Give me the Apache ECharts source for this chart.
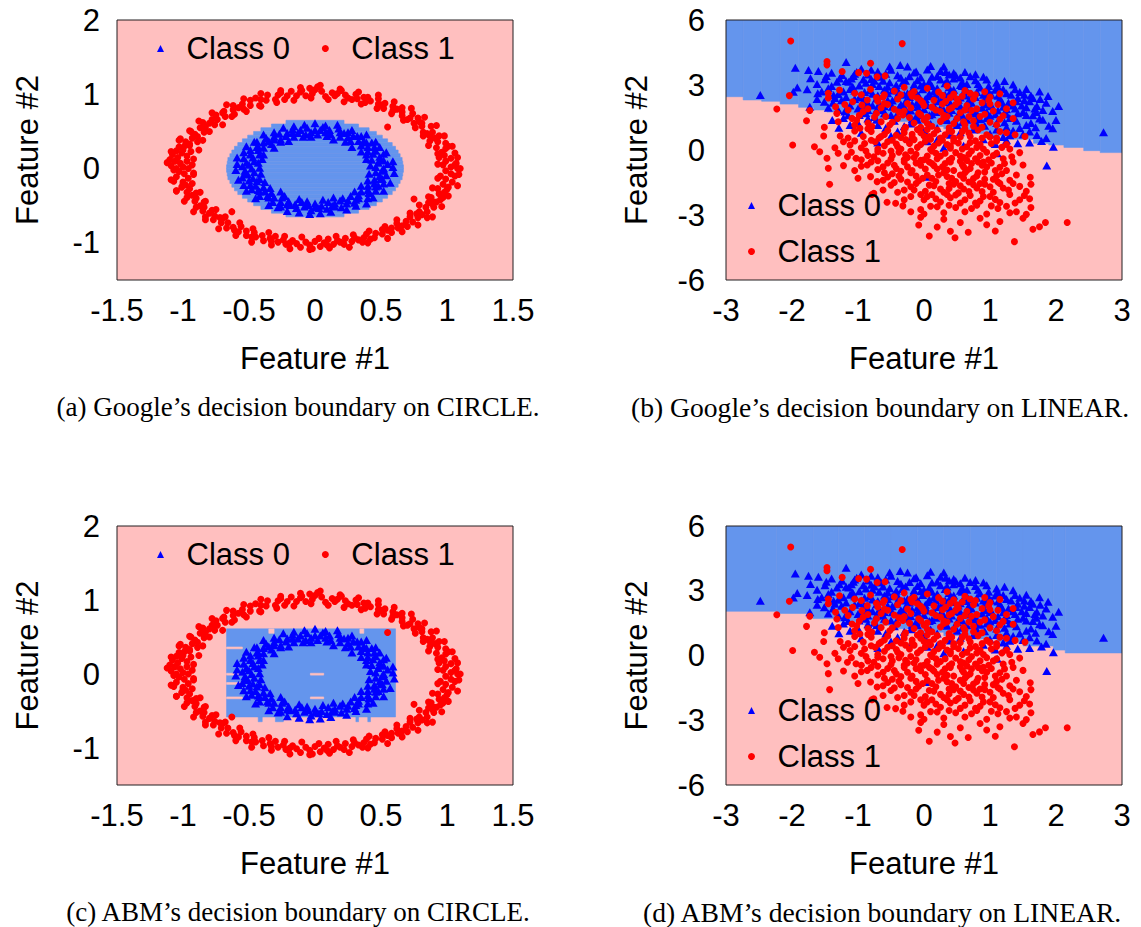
<!DOCTYPE html>
<html>
<head>
<meta charset="utf-8">
<script src="https://cdn.jsdelivr.net/npm/echarts@6/dist/echarts.min.js"></script>
<style>
html,body{margin:0;padding:0;background:#fff;}
#chart{width:1141px;height:927px;}
</style>
</head>
<body>
<div id="chart"></div>
<script>
// ---------------- data ----------------
const circleXRange = [-1.5, 1.5];
const circleYRange = [-1.5, 2];
const circleXInterval = 0.5;
const circleYTicks = [-1, 0, 1, 2];
const linearXRange = [-3, 3];
const linearYRange = [-6, 6];
const linearXInterval = 1;
const linearYInterval = 3;

// CIRCLE dataset, class 0 (inner ring)
const circleClass0 = [
[0.52,0.00],[0.46,0.02],[0.55,0.06],[0.48,0.08],[0.52,0.11],[0.43,0.12],[0.49,0.16],[0.52,0.20],[0.44,0.20],[0.46,0.24],
[0.40,0.23],[0.45,0.29],[0.40,0.29],[0.43,0.35],[0.35,0.31],[0.37,0.37],[0.33,0.37],[0.35,0.44],[0.27,0.37],[0.29,0.44],
[0.25,0.42],[0.25,0.49],[0.19,0.43],[0.19,0.49],[0.18,0.54],[0.12,0.46],[0.11,0.52],[0.08,0.49],[0.06,0.56],[0.02,0.46],
[0.00,0.52],[-0.03,0.49],[-0.06,0.55],[-0.07,0.46],[-0.11,0.52],[-0.13,0.48],[-0.17,0.53],[-0.16,0.43],[-0.21,0.48],[-0.22,0.44],
[-0.27,0.47],[-0.26,0.39],[-0.31,0.43],[-0.31,0.39],[-0.37,0.41],[-0.33,0.33],[-0.39,0.35],[-0.44,0.36],[-0.39,0.28],[-0.44,0.29],
[-0.43,0.25],[-0.49,0.25],[-0.42,0.19],[-0.49,0.19],[-0.47,0.15],[-0.54,0.14],[-0.46,0.10],[-0.52,0.08],[-0.50,0.05],[-0.55,0.03],
[-0.48,0.00],[-0.53,-0.03],[-0.46,-0.05],[-0.51,-0.08],[-0.55,-0.12],[-0.47,-0.13],[-0.50,-0.16],[-0.44,-0.17],[-0.49,-0.22],[-0.45,-0.23],
[-0.48,-0.28],[-0.39,-0.25],[-0.42,-0.31],[-0.38,-0.31],[-0.42,-0.37],[-0.33,-0.33],[-0.35,-0.39],[-0.31,-0.39],[-0.32,-0.45],[-0.25,-0.39],
[-0.26,-0.45],[-0.26,-0.51],[-0.20,-0.44],[-0.19,-0.49],[-0.15,-0.48],[-0.14,-0.53],[-0.10,-0.45],[-0.08,-0.51],[-0.05,-0.49],[-0.03,-0.56],
[0.00,-0.47],[0.03,-0.53],[0.05,-0.50],[0.09,-0.54],[0.10,-0.45],[0.13,-0.50],[0.15,-0.47],[0.20,-0.52],[0.19,-0.43],[0.24,-0.47],
[0.25,-0.43],[0.30,-0.46],[0.27,-0.37],[0.33,-0.40],[0.33,-0.36],[0.40,-0.40],[0.35,-0.31],[0.41,-0.33],[0.40,-0.29],[0.46,-0.30],
[0.40,-0.23],[0.46,-0.24],[0.45,-0.20],[0.52,-0.20],[0.45,-0.15],[0.51,-0.14],[0.49,-0.10],[0.54,-0.09],[0.46,-0.05],[0.52,-0.03],
[0.59,0.02],[0.42,0.04],[0.59,0.10],[0.49,0.12],[0.39,0.13],[0.54,0.22],[0.39,0.19],[0.49,0.29],[0.35,0.23],[0.46,0.36],
[0.39,0.35],[0.28,0.29],[0.39,0.46],[0.32,0.44],[0.23,0.36],[0.28,0.52],[0.22,0.48],[0.14,0.39],[0.17,0.59],[0.09,0.44],
[0.08,0.58],[0.04,0.52],[0.00,0.61],[-0.03,0.43],[-0.08,0.59],[-0.09,0.43],[-0.16,0.57],[-0.17,0.48],[-0.24,0.55],[-0.20,0.37],
[-0.31,0.49],[-0.26,0.36],[-0.39,0.46],[-0.35,0.37],[-0.31,0.28],[-0.46,0.36],[-0.43,0.29],[-0.52,0.30],[-0.39,0.19],[-0.54,0.22],
[-0.40,0.13],[-0.59,0.15],[-0.43,0.08],[-0.59,0.06],[-0.42,0.01],[-0.60,-0.02],[-0.53,-0.06],[-0.41,-0.07],[-0.58,-0.15],[-0.42,-0.14],
[-0.54,-0.22],[-0.38,-0.18],[-0.52,-0.30],[-0.43,-0.29],[-0.34,-0.26],[-0.45,-0.40],[-0.36,-0.37],[-0.26,-0.31],[-0.35,-0.49],[-0.23,-0.37],
[-0.28,-0.52],[-0.21,-0.48],[-0.21,-0.57],[-0.12,-0.41],[-0.12,-0.59],[-0.06,-0.44],[-0.04,-0.61],[0.00,-0.52],[0.04,-0.60],[0.06,-0.42],
[0.12,-0.58],[0.15,-0.51],[0.14,-0.39],[0.24,-0.55],[0.21,-0.40],[0.31,-0.50],[0.31,-0.42],[0.39,-0.47],[0.30,-0.31],[0.44,-0.39],
[0.41,-0.32],[0.35,-0.23],[0.52,-0.30],[0.48,-0.23],[0.40,-0.16],[0.57,-0.19],[0.50,-0.13],[0.41,-0.07],[0.60,-0.06],[0.51,-0.02]
];

// CIRCLE dataset, class 1 (outer ring)
const circleClass1 = [
[1.03,0.02],[0.97,0.05],[1.07,0.07],[0.99,0.10],[1.03,0.14],[0.94,0.15],[1.06,0.21],[0.96,0.22],[0.99,0.27],[0.92,0.28],
[0.99,0.34],[0.93,0.36],[0.87,0.37],[0.94,0.44],[0.87,0.44],[0.89,0.49],[0.82,0.49],[0.88,0.57],[0.81,0.57],[0.81,0.61],
[0.75,0.61],[0.78,0.68],[0.72,0.68],[0.74,0.74],[0.66,0.71],[0.66,0.76],[0.66,0.82],[0.59,0.78],[0.59,0.84],[0.52,0.81],
[0.53,0.88],[0.48,0.87],[0.48,0.94],[0.42,0.91],[0.38,0.89],[0.37,0.96],[0.32,0.94],[0.31,1.00],[0.25,0.95],[0.23,0.99],
[0.20,1.05],[0.15,0.98],[0.13,1.02],[0.08,0.97],[0.05,1.04],[0.02,1.10],[0.55,0.56],
[-0.02,1.01],[-0.04,1.08],[-0.07,0.98],[-0.11,1.03],[-0.14,0.98],[-0.18,1.04],[-0.21,0.98],[-0.23,0.93],[-0.28,0.99],[-0.30,0.93],
[-0.36,0.99],[-0.37,0.92],[-0.41,0.93],[-0.42,0.85],[-0.49,0.92],[-0.49,0.85],[-0.55,0.87],[-0.54,0.80],[-0.62,0.85],[-0.62,0.79],
[-0.61,0.73],[-0.69,0.77],[-0.68,0.70],[-0.75,0.72],[-0.74,0.66],[-0.78,0.66],[-0.76,0.59],[-0.85,0.62],[-0.83,0.56],[-0.87,0.55],
[-0.84,0.49],[-0.94,0.50],[-0.89,0.43],[-0.93,0.41],[-0.89,0.36],[-0.98,0.36],[-0.95,0.31],[-1.03,0.29],[-0.94,0.23],[-1.01,0.21],
[-0.97,0.17],[-1.04,0.15],[-0.97,0.10],[-1.02,0.07],[-1.09,0.04],[-1.06,0.10],[-0.93,0.05],[-1.00,0.25],[-1.08,0.19],
[-0.96,0.00],[-1.03,-0.04],[-0.99,-0.07],[-1.05,-0.11],[-0.96,-0.13],[-1.00,-0.18],[-0.93,-0.20],[-1.01,-0.25],[-0.95,-0.27],[-0.97,-0.32],
[-0.90,-0.33],[-0.97,-0.39],[-0.90,-0.40],[-0.91,-0.44],[-0.84,-0.45],[-0.90,-0.52],[-0.84,-0.52],[-0.85,-0.57],[-0.78,-0.56],[-0.83,-0.65],
[-0.76,-0.64],[-0.77,-0.69],[-0.70,-0.67],[-0.71,-0.73],[-0.66,-0.73],[-0.67,-0.80],[-0.62,-0.79],[-0.56,-0.78],[-0.58,-0.85],[-0.52,-0.84],
[-0.52,-0.90],[-0.46,-0.86],[-0.45,-0.92],[-0.40,-0.90],[-0.39,-0.97],[-0.34,-0.94],[-0.30,-0.91],[-0.28,-0.99],[-0.24,-0.96],[-0.22,-1.02],
[-0.17,-0.97],[-0.14,-1.01],[-0.11,-1.06],[-0.07,-0.99],[-0.04,-1.03],[-0.63,-0.58],
[0.00,-0.98],[0.04,-1.05],[0.07,-1.00],[0.10,-0.95],[0.14,-1.02],[0.17,-0.97],[0.22,-1.02],[0.23,-0.94],[0.28,-0.98],[0.30,-0.93],
[0.36,-0.99],[0.37,-0.93],[0.39,-0.88],[0.45,-0.93],[0.46,-0.87],[0.51,-0.88],[0.51,-0.82],[0.58,-0.86],[0.58,-0.80],[0.63,-0.80],
[0.62,-0.74],[0.70,-0.78],[0.69,-0.71],[0.74,-0.72],[0.72,-0.65],[0.78,-0.66],[0.85,-0.66],[0.79,-0.58],[0.85,-0.58],[0.84,-0.52],
[0.90,-0.52],[0.86,-0.46],[0.92,-0.45],[0.88,-0.39],[0.97,-0.39],[0.94,-0.34],[0.98,-0.32],[0.93,-0.27],[1.01,-0.25],[0.97,-0.21],
[1.04,-0.18],[0.99,-0.14],[0.95,-0.10],[1.03,-0.07],[0.99,-0.03],[0.75,-0.41],
[1.06,0.05],[0.98,0.18],[1.01,0.30],[0.91,0.41],[0.85,0.47],[0.79,0.63],[0.70,0.66],[0.62,0.80],[0.50,0.86],[0.40,0.96],
[0.28,0.93],[0.17,1.01],[0.00,1.06],[-0.10,1.05],[-0.26,1.02],[-0.45,0.95],[-0.58,0.82],[-0.70,0.75],[-0.80,0.61],[-0.91,0.46],
[-0.99,0.30],[-1.05,0.24],[-1.10,0.12],[-1.00,0.02],[-1.07,-0.02],[-0.92,-0.08],[-1.07,-0.17],[-0.98,-0.22],[-1.05,-0.30],[-0.93,-0.36],
[-0.87,-0.50],[-0.80,-0.60],[-0.72,-0.66],[-0.61,-0.83],[-0.48,-0.92],[-0.33,-0.98],[-0.19,-1.00],[-0.02,-1.08],[0.09,-1.03],[0.19,-0.99],
[0.33,-0.96],[0.42,-0.95],[0.55,-0.83],[0.66,-0.77],[0.77,-0.61],[0.81,-0.62],[0.89,-0.48],[0.95,-0.42],[1.00,-0.28],[1.06,-0.10],
[1.08,0.00],[0.90,-0.45],[-0.95,0.33],[-1.02,0.40],
[1.10,0.00],[0.93,0.06],[1.08,0.15],[0.93,0.20],[1.04,0.30],[0.86,0.31],[0.98,0.44],[0.82,0.44],[0.92,0.58],[0.76,0.55],
[0.83,0.69],[0.67,0.65],[0.73,0.81],[0.58,0.74],[0.60,0.90],[0.47,0.81],[0.48,0.99],[0.35,0.87],[0.33,1.03],[0.22,0.90],
[0.19,1.07],[0.10,0.93],[0.04,1.12],[-0.03,0.95],[-0.11,1.09],[-0.16,0.92],[-0.26,1.05],[-0.29,0.89],[-0.41,1.01],[-0.41,0.84],
[-0.54,0.94],[-0.52,0.77],[-0.67,0.86],[-0.63,0.70],[-0.78,0.75],[-0.70,0.59],[-0.88,0.64],[-0.80,0.50],[-0.95,0.51],[-0.85,0.38],
[-1.03,0.38],[-0.88,0.25],[-1.09,0.23],[-0.92,0.13],[-1.12,0.08],[-1.05,0.00],[-0.92,-0.06],[-1.09,-0.15],[-1.00,-0.21],[-1.05,-0.30],
[-0.87,-0.32],[-0.99,-0.44],[-0.83,-0.44],[-0.92,-0.58],[-0.75,-0.55],[-0.83,-0.69],[-0.68,-0.65],[-0.73,-0.81],[-0.57,-0.73],[-0.60,-0.90],
[-0.47,-0.81],[-0.48,-0.99],[-0.35,-0.86],[-0.33,-1.03],[-0.23,-0.91],[-0.19,-1.08],[-0.10,-0.92],[-0.04,-1.09],[0.03,-0.94],[0.11,-1.07],
[0.16,-0.91],[0.26,-1.06],[0.29,-0.89],[0.40,-1.00],[0.41,-0.84],[0.55,-0.94],[0.53,-0.78],[0.66,-0.85],[0.62,-0.69],[0.78,-0.76],
[0.72,-0.60],[0.89,-0.65],[0.79,-0.49],[0.96,-0.51],[0.86,-0.38],[1.01,-0.37],[0.89,-0.26],[1.08,-0.23],[0.93,-0.13],[1.09,-0.08]
];

// LINEAR dataset, class 0
const linearClass0 = [
[-1.95,3.80],[-1.75,3.69],[-1.60,3.65],[-1.40,3.57],[-1.18,4.06],[-0.36,3.92],[0.25,3.65],[-0.95,3.75],[-0.70,3.62],[-0.50,3.70],
[-0.15,3.58],[0.05,3.72],[0.45,3.55],[-1.05,3.52],[-0.25,3.85],
[-1.72,3.31],[-1.50,3.26],[-1.32,3.15],[-1.24,3.46],[-1.14,3.15],[-1.07,3.42],[-0.92,3.25],[-0.78,3.05],[-0.65,3.38],[-0.52,3.12],
[-0.40,3.45],[-0.28,3.20],[-0.15,3.02],[-0.05,3.35],[0.08,3.15],[0.20,3.42],[0.32,3.08],[0.45,3.30],[0.58,3.12],[0.70,3.40],
[0.82,3.05],[0.95,3.25],[1.10,3.10],[-0.85,3.48],[0.38,3.48],
[-1.92,2.89],[-1.77,2.80],[-1.98,2.69],[-1.61,2.62],[-1.37,2.54],[-2.48,2.54],[-1.45,2.85],[-1.22,2.70],[-1.08,2.92],[-0.95,2.55],
[-0.82,2.75],[-0.68,2.95],[-0.55,2.62],[-0.42,2.85],[-0.30,2.55],[-0.18,2.78],[-0.05,2.98],[0.08,2.60],[0.20,2.85],[0.32,2.55],
[0.45,2.78],[0.58,2.95],[0.72,2.60],[0.85,2.88],[0.98,2.70],[1.12,2.92],[1.25,2.62],[1.38,2.80],[1.52,2.55],[1.88,2.49],
[-0.12,2.65],[0.65,2.75],
[-1.73,2.00],[-1.51,2.23],[-1.25,2.30],[-1.12,2.05],[-0.98,2.42],[-0.85,2.15],[-0.72,2.38],[-0.60,2.02],[-0.48,2.28],[-0.35,2.10],
[-0.22,2.45],[-0.10,2.22],[0.02,2.35],[0.15,2.05],[0.28,2.40],[0.40,2.15],[0.52,2.32],[0.65,2.08],[0.78,2.45],[0.90,2.25],
[1.02,2.05],[1.15,2.38],[1.28,2.18],[1.42,2.40],[1.55,1.97],[1.71,2.03],[1.76,2.35],[2.04,2.03],[1.60,2.25],[-0.28,2.25],[0.45,2.48],
[-1.30,1.85],[-1.15,1.60],[-1.00,1.92],[-0.88,1.70],[-0.75,1.52],[-0.62,1.85],[-0.50,1.62],[-0.38,1.95],[-0.25,1.72],[-0.12,1.55],
[0.00,1.88],[0.12,1.65],[0.25,1.95],[0.38,1.72],[0.50,1.55],[0.62,1.90],[0.75,1.68],[0.88,1.95],[1.00,1.58],[1.12,1.82],
[1.25,1.65],[1.38,1.92],[1.50,1.75],[1.65,1.60],[1.80,1.85],[0.82,1.52],[-0.05,1.62],
[-1.39,1.38],[-1.29,1.03],[-1.00,1.25],[-0.85,1.45],[-0.70,1.15],[-0.45,1.35],[-0.30,1.10],[-0.10,1.40],[0.10,1.20],[0.30,1.45],
[0.50,1.15],[0.65,1.40],[0.80,1.20],[0.95,1.48],[1.10,1.25],[1.25,1.05],[1.40,1.35],[1.55,1.15],[1.69,1.05],[1.89,1.12],
[2.00,1.38],[1.75,1.45],
[-0.95,0.80],[-0.50,0.65],[0.00,0.90],[0.40,0.70],[0.75,0.95],[1.00,0.75],[1.20,0.60],[1.35,0.90],[1.50,0.72],[1.71,0.69],
[2.72,0.82],[1.85,0.55],[-0.20,0.55],[1.10,0.95],
[1.42,0.31],[1.08,0.28],[1.11,-0.15],[1.96,0.15],[1.86,-0.72],[0.05,-1.23],[0.60,0.20],[-0.70,0.35],[0.30,0.10],[1.25,0.45],[1.60,0.35],
[-1.48,3.42],[-1.28,3.30],[-1.02,3.60],[-0.80,3.28],[-0.58,3.52],[-0.35,3.33],[-0.12,3.62],[0.12,3.38],[0.33,3.60],[0.55,3.35],[0.78,3.50],[0.10,3.88],
[-1.62,3.05],[-1.40,2.95],[-1.18,3.18],[-0.98,2.98],[-0.75,3.20],[-0.55,2.92],[-0.33,3.08],[-0.10,3.22],[0.12,2.95],[0.35,3.20],
[0.55,3.00],[0.78,3.22],[0.98,2.95],[1.22,3.18],[1.35,3.02],
[-1.55,2.70],[-1.30,2.58],[-1.12,2.82],[-0.90,2.68],[-0.70,2.52],[-0.48,2.75],[-0.25,2.62],[-0.02,2.80],[0.18,2.55],[0.40,2.70],
[0.62,2.52],[0.80,2.68],[1.02,2.55],[1.20,2.80],[1.45,2.68],[1.62,2.52],[1.75,2.70],
[-1.62,2.35],[-1.38,2.18],[-1.18,2.45],[-0.92,2.25],[-0.68,2.12],[-0.42,2.40],[-0.18,2.12],[0.08,2.48],[0.30,2.22],[0.55,2.42],
[0.72,2.18],[0.95,2.40],[1.18,2.22],[1.35,2.05],[1.52,2.30],[1.85,2.18],
[-1.45,1.95],[-1.20,1.78],[-0.95,2.05],[-0.72,1.85],[-0.48,2.00],[-0.20,1.82],[0.05,2.08],[0.30,1.85],[0.55,2.02],[0.78,1.80],
[1.02,2.02],[1.25,1.88],[1.48,2.05],[1.68,1.92],[1.95,1.80],
[-1.22,1.48],[-0.98,1.62],[-0.72,1.40],[-0.42,1.58],[-0.18,1.42],[0.08,1.60],[0.35,1.38],[0.58,1.62],[0.85,1.42],[1.08,1.65],
[1.30,1.48],[1.55,1.62],[1.80,1.40],
[-1.12,1.15],[-0.58,1.02],[-0.20,1.22],[0.20,1.02],[0.58,1.28],[0.92,1.12],[1.22,1.28],[1.45,1.02],[1.62,1.25],[1.95,1.00],
[-0.40,0.85],[0.20,0.48],[0.55,0.82],[0.90,0.50],[1.30,0.68],[1.60,0.85],[1.78,0.42],[0.05,0.40],
[-1.10,3.30],[-0.88,3.10],[-0.62,3.20],[-0.42,3.00],[-0.22,3.40],[0.00,3.05],[0.25,3.25],[0.48,3.45],[0.65,3.05],[0.90,3.38],
[-1.05,2.75],[-0.78,2.60],[-0.60,2.78],[-0.38,2.65],[-0.08,2.50],[0.15,2.70],[0.38,2.90],[0.60,2.65],[0.90,2.55],[1.08,2.78],
[1.32,2.55],[1.55,2.82],[-1.35,2.40],[-1.05,2.35],[-0.78,2.05],[-0.55,2.30],[-0.30,2.00],[-0.05,2.10],[0.22,2.25],[0.45,2.05],
[0.68,2.30],[0.92,2.10],[1.12,2.50],[1.40,2.25],[1.65,2.40],[-0.85,1.85],[-0.60,1.70],[-0.35,1.80],[-0.10,1.98],[0.18,1.75],
[0.42,1.85],[0.70,1.95],[0.95,1.75],[1.20,2.00],[1.42,1.70],[1.70,1.75],[-0.52,3.85],[-0.80,3.70],[0.30,3.85],[0.62,3.60]
];

// LINEAR dataset, class 1
const linearClass1 = [
[-2.02,5.03],[-0.33,4.91],[-1.47,4.08],[-1.47,3.93],[-0.81,4.00],[-2.04,2.51],[-2.23,1.89],[-1.24,3.62],[-0.99,3.57],[-0.87,3.54],
[-0.71,3.38],[-0.59,3.42],[-1.45,2.62],
[-1.28,2.77],[-1.05,2.62],[-0.81,2.80],[-0.60,2.55],[-0.45,2.72],[-0.20,2.60],[0.05,2.85],[0.22,2.68],[0.45,2.58],[0.62,2.74],
[0.78,2.55],[0.92,2.69],[1.15,2.60],[-0.30,2.90],[0.35,2.95],
[-1.45,2.40],[-1.08,2.23],[-0.94,2.08],[-0.86,2.31],[-1.34,2.00],[-0.70,2.25],[-0.55,2.10],[-0.40,2.35],[-0.25,2.15],[-0.10,2.40],
[0.00,2.05],[0.15,2.30],[0.28,2.12],[0.40,2.42],[0.52,2.20],[0.65,2.05],[0.75,2.35],[0.88,2.18],[1.00,2.45],[1.12,2.10],
[1.35,2.18],[-0.62,2.45],[0.33,2.25],[-0.18,2.48],[0.58,2.48],
[-1.73,1.82],[-1.32,1.69],[-1.15,1.85],[-0.98,1.60],[-0.85,1.90],[-0.72,1.70],[-0.58,1.55],[-0.45,1.88],[-0.32,1.62],[-0.20,1.95],
[-0.08,1.70],[0.05,1.52],[0.18,1.85],[0.30,1.60],[0.42,1.95],[0.55,1.72],[0.68,1.55],[0.80,1.90],[0.92,1.65],[1.05,1.80],
[1.20,1.58],[-0.38,1.75],[0.12,1.98],[0.62,1.85],[-0.65,1.95],
[-1.78,1.35],[-1.51,1.05],[-1.09,1.46],[-1.02,1.38],[-0.97,1.00],[-0.79,1.08],[-0.65,1.30],[-0.52,1.15],[-0.40,1.45],[-0.28,1.05],
[-0.15,1.25],[0.00,1.40],[0.12,1.10],[0.25,1.32],[0.38,1.02],[0.50,1.45],[0.62,1.18],[0.75,1.35],[0.88,1.05],[1.00,1.28],
[1.15,1.42],[-0.85,1.25],[0.45,1.22],[-0.05,1.05],[0.30,1.48],
[-1.52,0.65],[-1.27,0.65],[-0.92,0.62],[-0.80,0.85],[-0.68,0.55],[-0.55,0.90],[-0.42,0.68],[-0.30,0.95],[-0.18,0.58],[-0.05,0.80],
[0.08,0.62],[0.20,0.92],[0.32,0.70],[0.45,0.55],[0.58,0.85],[0.70,0.62],[0.82,0.92],[0.95,0.70],[1.10,0.55],[1.25,0.80],
[1.53,0.62],[-1.05,0.88],[0.15,0.75],[0.62,0.98],
[-1.99,0.23],[-1.66,0.15],[-1.22,0.38],[-1.12,0.23],[-0.74,0.38],[-0.95,0.10],[-0.60,0.20],[-0.48,0.45],[-0.35,0.05],[-0.22,0.30],
[-0.10,0.12],[0.02,0.40],[0.15,0.18],[0.28,0.45],[0.40,0.08],[0.52,0.32],[0.65,0.15],[0.78,0.42],[0.90,0.05],[1.02,0.30],
[1.18,0.12],[-0.80,0.45],[0.35,0.25],[0.70,0.35],[-0.15,0.48],
[-1.58,-0.08],[-1.47,-0.38],[-1.16,-0.31],[-1.03,-0.38],[-0.76,-0.31],[-0.88,-0.05],[-0.62,-0.15],[-0.50,-0.42],[-0.38,-0.10],[-0.25,-0.35],
[-0.12,-0.20],[0.00,-0.45],[0.12,-0.05],[0.25,-0.28],[0.38,-0.48],[0.48,-0.12],[0.60,-0.35],[0.72,-0.05],[0.85,-0.25],[0.98,-0.45],
[1.10,-0.15],[1.33,-0.31],[0.20,-0.40],[-0.30,-0.45],[0.65,-0.48],
[-1.45,-0.84],[-1.22,-0.72],[-0.86,-0.69],[-0.70,-0.90],[-0.55,-0.60],[-0.42,-0.85],[-0.30,-0.55],[-0.18,-0.95],[-0.05,-0.70],[0.08,-0.55],
[0.20,-0.88],[0.32,-0.62],[0.45,-0.95],[0.58,-0.68],[0.70,-0.85],[0.82,-0.55],[0.95,-0.78],[1.08,-0.95],[1.22,-0.62],[1.50,-0.69],
[0.15,-0.72],[0.55,-0.52],[-0.25,-0.78],
[-0.81,-1.23],[-0.62,-1.40],[-0.48,-1.10],[-0.35,-1.35],[-0.20,-1.05],[-0.08,-1.42],[0.05,-1.15],[0.18,-1.45],[0.30,-1.05],[0.42,-1.30],
[0.55,-1.15],[0.68,-1.48],[0.80,-1.20],[0.92,-1.02],[1.05,-1.35],[1.18,-1.10],[1.30,-1.40],[1.61,-1.26],[-0.71,-1.46],[0.35,-1.22],
[-1.43,-1.58],[-0.50,-1.62],[-0.30,-1.85],[-0.12,-1.55],[0.02,-1.90],[0.15,-1.65],[0.30,-1.95],[0.45,-1.58],[0.60,-1.80],[0.75,-1.60],
[0.88,-1.92],[1.00,-1.70],[1.15,-1.55],[1.28,-1.85],[1.45,-1.68],[0.52,-1.98],
[-0.76,-2.00],[-0.79,-2.05],[-0.56,-2.41],[-0.43,-2.46],[-0.20,-2.15],[0.00,-2.30],[0.12,-2.05],[0.25,-2.40],[0.40,-2.20],[0.55,-2.45],
[0.70,-2.10],[0.85,-2.35],[1.00,-2.15],[1.15,-2.42],[1.30,-2.05],[1.45,-2.30],[1.52,-2.10],
[-0.32,-2.58],[-0.05,-2.75],[0.10,-2.60],[0.30,-2.90],[0.48,-2.65],[0.62,-2.85],[0.80,-2.55],[0.95,-2.95],[1.12,-2.70],[1.25,-2.60],
[1.40,-2.85],[1.55,-2.97],[0.20,-2.62],
[-0.08,-3.46],[0.08,-3.97],[0.47,-4.05],[0.67,-3.80],[1.08,-3.74],[1.37,-4.23],[1.65,-3.66],[1.75,-3.54],[1.84,-3.35],[2.17,-3.35],
[0.30,-3.20],[0.55,-3.35],[0.85,-3.15],[1.15,-3.30],[-0.05,-3.10],
[-0.95,2.55],[-0.72,2.42],[-0.35,2.55],[-0.05,2.28],[0.28,2.52],[0.50,2.35],[0.70,2.62],[0.98,2.30],[-0.15,2.70],
[-1.20,2.10],[-0.92,1.78],[-0.60,2.15],[-0.30,1.80],[-0.02,2.18],[0.25,1.78],[0.48,2.10],[0.72,1.82],[1.00,2.12],[1.25,1.90],[0.38,1.88],
[-1.30,1.30],[-1.05,1.15],[-0.75,1.52],[-0.48,1.28],[-0.22,1.50],[0.05,1.22],[0.35,1.55],[0.60,1.30],[0.85,1.55],[1.10,1.15],[1.35,1.45],[-0.05,1.62],
[-1.15,0.55],[-0.85,0.98],[-0.60,0.72],[-0.35,0.58],[-0.10,0.95],[0.25,0.55],[0.42,0.85],[0.68,0.78],[0.88,0.55],[1.15,0.85],[1.38,0.70],[0.00,0.65],
[-1.35,0.10],[-1.05,0.42],[-0.70,0.05],[-0.42,0.28],[-0.28,0.48],[-0.05,0.25],[0.10,0.02],[0.22,0.32],[0.45,0.42],[0.58,0.05],
[0.85,0.25],[1.10,0.42],[1.30,0.05],[-0.55,0.38],
[-1.30,-0.15],[-0.95,-0.45],[-0.70,-0.08],[-0.48,-0.25],[-0.20,-0.05],[0.05,-0.28],[0.32,-0.15],[0.55,-0.28],[0.78,-0.40],[0.95,-0.10],
[1.20,-0.40],[1.45,-0.12],[-0.05,-0.48],[0.42,-0.38],
[-1.05,-0.95],[-0.80,-0.55],[-0.62,-0.78],[-0.35,-0.98],[-0.12,-0.60],[0.02,-0.88],[0.28,-0.78],[0.40,-0.55],[0.65,-0.95],[0.88,-0.70],
[1.15,-0.80],[1.35,-0.55],[0.72,-0.62],
[-1.00,-1.30],[-0.55,-1.25],[-0.25,-1.48],[-0.02,-1.30],[0.22,-1.15],[0.48,-1.45],[0.62,-1.05],[0.92,-1.35],[1.12,-1.48],[1.40,-1.15],[0.75,-1.32],
[-0.62,-1.85],[-0.20,-1.70],[0.08,-1.62],[0.38,-1.78],[0.68,-1.92],[0.92,-1.58],[1.20,-1.75],[1.55,-1.90],[-0.40,-1.95],[1.62,-1.58],
[-0.30,-2.30],[0.18,-2.25],[0.48,-2.08],[0.78,-2.45],[1.08,-2.28],[1.38,-2.45],[1.60,-2.25],[-0.05,-2.05],[0.62,-2.30],
[0.00,-2.95],[0.38,-2.55],[0.72,-2.70],[1.02,-2.58],[1.30,-2.90],[1.62,-2.65],[-0.20,-2.85],
[0.20,-3.55],[0.95,-3.45],[1.50,-3.15],[0.40,-3.75],
[-0.65,0.62],[-0.40,0.15],[-0.18,0.72],[0.10,0.50],[0.38,0.88],[0.55,0.60],[0.80,0.12],[1.00,0.60],[-0.50,-0.05],[-0.28,-0.22],
[0.18,-0.15],[0.40,0.18],[0.68,-0.20],[0.90,-0.55],[1.05,-0.25],[-0.70,-0.50],[-0.45,-0.70],[-0.15,-0.35],[0.12,-0.62],[0.35,-0.92],
[0.60,-0.78],[0.82,-1.05],[1.02,-0.60],[-0.60,-1.05],[-0.38,-1.20],[-0.12,-1.20],[0.12,-1.30],[0.38,-1.55],[0.60,-1.30],[0.85,-1.55],
[1.10,-1.20],[-0.45,-1.50],[-0.15,-1.85],[0.25,-1.80],[0.55,-1.65],[0.80,-1.75],[1.05,-1.95],[0.05,-2.15],[0.35,-2.05],[0.90,-2.15],
[-0.90,0.30],[-1.10,-0.10],[-0.85,-0.25],[-0.95,-0.75],[1.25,-0.95],[1.35,-1.55],[1.25,0.25],[-0.30,0.80],[0.05,0.95],[0.75,1.10]
];

// decision regions (class 0 area), rects as [xMin, xMax, yMin, yMax]
const regionGoogleCircle = [
[-0.22,0.22,0.60,0.65],[-0.33,0.33,0.55,0.60],[-0.41,0.41,0.50,0.55],[-0.465,0.465,0.45,0.50],[-0.51,0.51,0.40,0.45],
[-0.55,0.55,0.35,0.40],[-0.585,0.585,0.30,0.35],[-0.61,0.61,0.25,0.30],[-0.63,0.63,0.20,0.25],[-0.645,0.645,0.15,0.20],
[-0.66,0.66,0.10,0.15],[-0.665,0.665,0.05,0.10],[-0.67,0.67,0.00,0.05],
[-0.67,0.67,-0.05,0.00],[-0.665,0.665,-0.10,-0.05],[-0.66,0.66,-0.15,-0.10],[-0.645,0.645,-0.20,-0.15],[-0.63,0.63,-0.25,-0.20],
[-0.61,0.61,-0.30,-0.25],[-0.585,0.585,-0.35,-0.30],[-0.55,0.55,-0.40,-0.35],[-0.51,0.51,-0.45,-0.40],[-0.465,0.465,-0.50,-0.45],
[-0.41,0.41,-0.55,-0.50],[-0.33,0.33,-0.60,-0.55],[-0.22,0.22,-0.65,-0.60]
];
const regionAbmCircle = [
[-0.67,0.61,-0.58,0.61],
[-0.43,-0.40,-0.645,-0.58],[-0.30,-0.24,-0.645,-0.58],[0.31,0.33,-0.645,-0.58],[0.40,0.42,-0.645,-0.58]
];
const gapsAbmCircle = [
[-0.35,-0.31,0.55,0.61],[0.34,0.37,0.55,0.61],
[-0.67,-0.55,0.34,0.365],[-0.67,-0.55,-0.015,0.01],[-0.67,-0.55,-0.14,-0.115],[-0.67,-0.55,-0.335,-0.31],
[-0.035,0.066,-0.015,0.01],[-0.035,0.066,-0.335,-0.31]
];
// LINEAR boundaries: column edges and boundary height per column (class 0 above)
const boundaryGoogleX = [-3,-2.74,-2.46,-2.18,-1.9,-1.67,-1.47,-1.2,-0.95,-0.7,-0.45,-0.2,0.05,0.3,0.55,0.8,1.05,1.3,1.66,1.89,2.12,2.42,2.67,3];
const boundaryGoogleY = [2.46,2.31,2.25,2.12,1.97,1.85,1.75,1.64,1.53,1.42,1.31,1.20,1.09,0.98,0.87,0.76,0.65,0.50,0.31,0.23,0.12,-0.03,-0.12];
const boundaryAbmX = [-3,-2.23,-1.68,-1.3,-0.9,-0.5,-0.1,0.3,0.7,1.1,1.5,1.96,2.14,3];
const boundaryAbmY = [2.05,1.95,1.71,1.56,1.40,1.24,1.08,0.92,0.76,0.60,0.44,0.25,0.12];

const captions = [
  '(a) Google\u2019s decision boundary on CIRCLE.',
  '(b) Google\u2019s decision boundary on LINEAR.',
  '(c) ABM\u2019s decision boundary on CIRCLE.',
  '(d) ABM\u2019s decision boundary on LINEAR.'
];

// ---------------- styling ----------------
const PINK = '#ffbfbf';
const BLUE_REGION = '#6495ed';
const SANS = "'Liberation Sans', Arial, Helvetica, sans-serif";
const SERIF = "'Liberation Serif', 'Times New Roman', serif";
const FS = 31;

function columnsToRects(xs, ys, top) {
  const out = [];
  for (let i = 0; i < ys.length; i++) out.push([xs[i], xs[i + 1], ys[i], top]);
  return out;
}

function renderRect(params, api) {
  const a = api.coord([api.value(0), api.value(3)]);
  const b = api.coord([api.value(1), api.value(2)]);
  const c = api.visual('color');
  return {
    type: 'rect',
    shape: { x: a[0], y: a[1], width: b[0] - a[0], height: b[1] - a[1] },
    style: { fill: c, stroke: c, lineWidth: 0.6 }
  };
}

const grids = [
  { left: 117, top: 20, width: 396, height: 260 },
  { left: 726, top: 20, width: 396, height: 260 },
  { left: 117, top: 526, width: 396, height: 259 },
  { left: 726, top: 526, width: 396, height: 259 }
].map(g => Object.assign(g, {
  show: true, z: 5, backgroundColor: 'transparent', borderColor: '#231f20', borderWidth: 1
}));

function xAxisFor(i, range, interval) {
  return {
    gridIndex: i, type: 'value', min: range[0], max: range[1], interval: interval,
    axisLine: { show: false }, axisTick: { show: false }, splitLine: { show: false },
    axisLabel: { fontSize: FS, color: '#000', fontFamily: SANS, margin: 15 },
    name: 'Feature #1', nameLocation: 'middle', nameGap: 63,
    nameTextStyle: { fontSize: FS, color: '#000', fontFamily: SANS }
  };
}
function yAxisFor(i, range, interval, ticks, margin) {
  const ax = {
    gridIndex: i, type: 'value', min: range[0], max: range[1],
    axisLine: { show: false }, axisTick: { show: false }, splitLine: { show: false },
    axisLabel: { fontSize: FS, color: '#000', fontFamily: SANS, margin: margin },
    name: 'Feature #2', nameLocation: 'middle', nameGap: 74,
    nameTextStyle: { fontSize: FS, color: '#000', fontFamily: SANS }
  };
  if (ticks) { ax.axisLabel.customValues = ticks; ax.axisTick.customValues = ticks; }
  else ax.interval = interval;
  return ax;
}

const xAxes = [
  xAxisFor(0, circleXRange, circleXInterval),
  xAxisFor(1, linearXRange, linearXInterval),
  xAxisFor(2, circleXRange, circleXInterval),
  xAxisFor(3, linearXRange, linearXInterval)
];
const yAxes = [
  yAxisFor(0, circleYRange, null, circleYTicks, 17),
  yAxisFor(1, linearYRange, linearYInterval, null, 21),
  yAxisFor(2, circleYRange, null, circleYTicks, 17),
  yAxisFor(3, linearYRange, linearYInterval, null, 21)
];

function rectSeries(i, data, color, name) {
  return {
    type: 'custom', name: name, xAxisIndex: i, yAxisIndex: i, renderItem: renderRect,
    data: data, encode: { x: [0, 1], y: [2, 3] }, itemStyle: { color: color },
    clip: true, z: 1, silent: true, animation: false
  };
}
function scatterPair(i, d0, d1) {
  return [
    { type: 'scatter', name: 'Class 0', xAxisIndex: i, yAxisIndex: i, data: d0,
      symbol: 'triangle', symbolSize: [9, 8], itemStyle: { color: '#0000ff', opacity: 1 }, z: 3, silent: true },
    { type: 'scatter', name: 'Class 1', xAxisIndex: i, yAxisIndex: i, data: d1,
      symbol: 'circle', symbolSize: 7, itemStyle: { color: '#ff0000', opacity: 1 }, z: 3, silent: true }
  ];
}

function bgRect(xr, yr) { return [[xr[0], xr[1], yr[0], yr[1]]]; }

const series = [].concat(
  [rectSeries(0, bgRect(circleXRange, circleYRange), PINK, 'bgA'),
   rectSeries(0, regionGoogleCircle, BLUE_REGION, 'regionA')],
  scatterPair(0, circleClass0, circleClass1),
  [rectSeries(1, bgRect(linearXRange, linearYRange), PINK, 'bgB'),
   rectSeries(1, columnsToRects(boundaryGoogleX, boundaryGoogleY, linearYRange[1]), BLUE_REGION, 'regionB')],
  scatterPair(1, linearClass0, linearClass1),
  [rectSeries(2, bgRect(circleXRange, circleYRange), PINK, 'bgC'),
   rectSeries(2, regionAbmCircle, BLUE_REGION, 'regionC'),
   rectSeries(2, gapsAbmCircle, PINK, 'gapsC')],
  scatterPair(2, circleClass0, circleClass1),
  [rectSeries(3, bgRect(linearXRange, linearYRange), PINK, 'bgD'),
   rectSeries(3, columnsToRects(boundaryAbmX, boundaryAbmY, linearYRange[1]), BLUE_REGION, 'regionD')],
  scatterPair(3, linearClass0, linearClass1)
);

const legendData = [
  { name: 'Class 0', icon: 'path://M0,10L5,0L10,10Z' },
  { name: 'Class 1', icon: 'circle' }
];
function legendFor(pos, orient, gap) {
  return Object.assign({
    data: legendData, orient: orient, itemWidth: 42, itemHeight: 7, itemGap: gap,
    selectedMode: false, symbolKeepAspect: true, padding: 0,
    textStyle: { fontSize: FS, color: '#000', fontFamily: SANS }
  }, pos);
}
const legends = [
  legendFor({ left: 157, top: 33 }, 'horizontal', 32),
  legendFor({ left: 748, top: 190 }, 'vertical', 15),
  legendFor({ left: 157, top: 539 }, 'horizontal', 32),
  legendFor({ left: 748, top: 695 }, 'vertical', 15)
];

function captionText(txt, x, y, size, align) {
  return {
    type: 'text', x: x, y: y, silent: true,
    style: { text: txt, fontSize: size, fontFamily: SERIF, fill: '#000', align: align, verticalAlign: 'middle' }
  };
}

const chart = echarts.init(document.getElementById('chart'), null, { renderer: 'svg', width: 1141, height: 927 });
chart.setOption({
  animation: false,
  backgroundColor: '#ffffff',
  grid: grids,
  xAxis: xAxes,
  yAxis: yAxes,
  legend: legends,
  series: series,
  graphic: [
    captionText(captions[0], 298, 407, 27, 'center'),
    captionText(captions[1], 631, 407, 27.6, 'left'),
    captionText(captions[2], 298, 912, 27, 'center'),
    captionText(captions[3], 643, 912, 27.6, 'left')
  ]
});
</script>
</body>
</html>
